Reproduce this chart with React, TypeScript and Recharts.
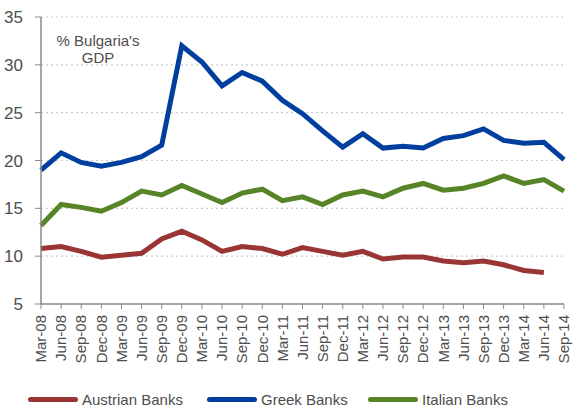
import React from 'react';
import { LineChart, Line, XAxis, YAxis, CartesianGrid, Legend } from 'recharts';

const quarters = [
  'Mar-08', 'Jun-08', 'Sep-08', 'Dec-08', 'Mar-09', 'Jun-09', 'Sep-09', 'Dec-09',
  'Mar-10', 'Jun-10', 'Sep-10', 'Dec-10', 'Mar-11', 'Jun-11', 'Sep-11', 'Dec-11',
  'Mar-12', 'Jun-12', 'Sep-12', 'Dec-12', 'Mar-13', 'Jun-13', 'Sep-13', 'Dec-13',
  'Mar-14', 'Jun-14', 'Sep-14',
];

const austrian = [
  10.8, 11.0, 10.5, 9.9, 10.1, 10.3, 11.8, 12.6, 11.7, 10.5, 11.0, 10.8, 10.2, 10.9,
  10.5, 10.1, 10.5, 9.7, 9.9, 9.9, 9.5, 9.3, 9.5, 9.1, 8.5, 8.3, null,
];

const greek = [
  19.0, 20.8, 19.8, 19.4, 19.8, 20.4, 21.6, 32.0, 30.3, 27.8, 29.2, 28.3, 26.3, 24.9,
  23.1, 21.4, 22.8, 21.3, 21.5, 21.3, 22.3, 22.6, 23.3, 22.1, 21.8, 21.9, 20.1,
];

const italian = [
  13.2, 15.4, 15.1, 14.7, 15.6, 16.8, 16.4, 17.4, 16.5, 15.6, 16.6, 17.0, 15.8, 16.2,
  15.4, 16.4, 16.8, 16.2, 17.1, 17.6, 16.9, 17.1, 17.6, 18.4, 17.6, 18.0, 16.8,
];

const yTicks = [5, 10, 15, 20, 25, 30, 35];

const data = quarters.map((q, i) => ({
  q,
  austrian: austrian[i],
  greek: greek[i],
  italian: italian[i],
}));

const FONT = '"Liberation Sans", Arial, sans-serif';
const AXIS = '#8a8a8a';
const TEXT = '#4d4d4d';

const QuarterTick = ({ x, y, payload }: any) => (
  <text
    x={0}
    y={0}
    dy="0.35em"
    transform={`translate(${x},${y + 4}) rotate(-90)`}
    textAnchor="end"
    fill={TEXT}
    fontSize={15}
    fontFamily={FONT}
  >
    {payload.value}
  </text>
);

const BottomLegend = ({ payload }: any) => {
  const lefts = [28, 207, 368];
  return (
    <div style={{ position: 'relative', height: 36 }}>
      {(payload || []).map((p: any, i: number) => (
        <div
          key={p.value}
          style={{
            position: 'absolute',
            left: lefts[i],
            top: 19,
            display: 'flex',
            alignItems: 'center',
            fontFamily: FONT,
            fontSize: 15,
            color: TEXT,
            whiteSpace: 'nowrap',
          }}
        >
          <span
            style={{
              display: 'inline-block',
              width: 50,
              height: 5,
              borderRadius: 3,
              background: p.color,
              marginRight: 4,
            }}
          />
          {p.value}
        </div>
      ))}
    </div>
  );
};

export default function App() {
  return (
    <div style={{ position: 'absolute', left: 0, top: 0, width: 575, height: 408, background: '#fff' }}>
      <LineChart
        width={575}
        height={408}
        data={data}
        margin={{ top: 17, right: 11, left: 0, bottom: 0 }}
      >
        <CartesianGrid
          vertical={false}
          stroke="#cccccc"
          strokeDasharray="2 3"
          strokeWidth={1.2}
        />
        <XAxis
          dataKey="q"
          interval={0}
          height={68}
          tick={<QuarterTick />}
          tickSize={5}
          tickLine={{ stroke: AXIS }}
          axisLine={{ stroke: AXIS, strokeWidth: 1.5 }}
          padding={{ left: 0, right: 0 }}
        />
        <YAxis
          domain={[5, 35]}
          ticks={yTicks}
          width={41}
          tickSize={6}
          tickMargin={12}
          tick={{ fill: TEXT, fontSize: 17, fontFamily: FONT }}
          tickLine={{ stroke: AXIS }}
          axisLine={{ stroke: AXIS, strokeWidth: 1.5 }}
          interval={0}
        />
        <Legend verticalAlign="bottom" height={36} content={<BottomLegend />} />
        <Line
          type="linear"
          dataKey="austrian"
          name="Austrian Banks"
          stroke="#993535"
          strokeWidth={5}
          dot={false}
          isAnimationActive={false}
        />
        <Line
          type="linear"
          dataKey="greek"
          name="Greek Banks"
          stroke="#003f9e"
          strokeWidth={5}
          dot={false}
          isAnimationActive={false}
        />
        <Line
          type="linear"
          dataKey="italian"
          name="Italian Banks"
          stroke="#568427"
          strokeWidth={5}
          dot={false}
          isAnimationActive={false}
        />
        <text x={98} y={46} textAnchor="middle" fill={TEXT} fontSize={15} fontFamily={FONT}>
          % Bulgaria's
        </text>
        <text x={98} y={63} textAnchor="middle" fill={TEXT} fontSize={15} fontFamily={FONT}>
          GDP
        </text>
      </LineChart>
    </div>
  );
}
